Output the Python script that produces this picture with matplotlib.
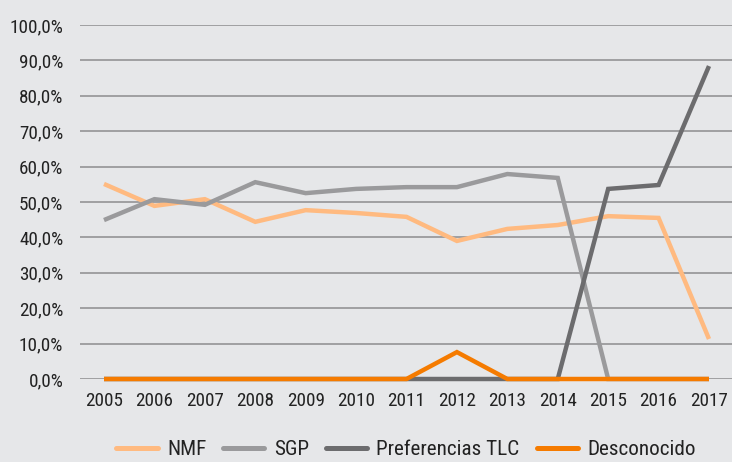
import matplotlib.pyplot as plt
from matplotlib.ticker import FixedLocator, FuncFormatter

years = list(range(2005, 2018))
nmf = [55.1, 48.9, 50.8, 44.4, 47.7, 46.9, 45.8, 39.0, 42.4, 43.5, 46.0, 45.5, 11.3]
sgp = [44.9, 50.8, 49.2, 55.6, 52.5, 53.7, 54.2, 54.2, 57.9, 56.8, 0.0, 0.0, 0.0]
tlc = [0.0, 0.0, 0.0, 0.0, 0.0, 0.0, 0.0, 0.0, 0.0, 0.0, 53.7, 54.8, 88.4]
desc = [0.0, 0.0, 0.0, 0.0, 0.0, 0.0, 0.0, 7.6, 0.0, 0.0, 0.0, 0.0, 0.0]

series = [
    ('NMF', nmf, '#FFBA80'),
    ('SGP', sgp, '#9A9A9C'),
    ('Preferencias TLC', tlc, '#6C6C6E'),
    ('Desconocido', desc, '#F57B00'),
]

bg = '#E6E7E9'
plt.rcParams['font.family'] = ['Roboto Condensed', 'Roboto', 'DejaVu Sans']

fig = plt.figure(figsize=(7.32, 4.62), dpi=100, facecolor=bg)
ax = fig.add_axes([80/732, 1 - 379/462, 652/732, 354/462])
ax.set_facecolor(bg)

for name, vals, col in series:
    ax.plot(years, vals, color=col, lw=3.2, label=name, clip_on=False,
            solid_capstyle='butt', solid_joinstyle='miter')

ax.set_xlim(2005 - 24/50.42, 2017 + 23/50.42)
ax.set_ylim(0, 100)
ax.yaxis.set_major_locator(FixedLocator(range(0, 101, 10)))
ax.yaxis.set_major_formatter(FuncFormatter(lambda v, p: ('%.1f%%' % v).replace('.', ',')))
ax.set_xticks(years)
ax.grid(axis='y', color='#A0A0A2', lw=1.4)
ax.set_axisbelow(True)
for s in ax.spines.values():
    s.set_visible(False)
ax.tick_params(length=0, labelsize=13.8, colors='#222222')
ax.tick_params(axis='y', pad=12)
ax.tick_params(axis='x', pad=9)

leg = ax.legend(loc='center', bbox_to_anchor=(0.5, -0.2), ncol=4, frameon=False,
                fontsize=15.2, handlelength=1.95, columnspacing=0.8, handletextpad=0.45,
                labelcolor='#222222', borderpad=0)
for h in leg.legend_handles:
    h.set_solid_capstyle('round')
    h.set_linewidth(3.6)

fig.savefig('out.png', dpi=100, facecolor=bg)
